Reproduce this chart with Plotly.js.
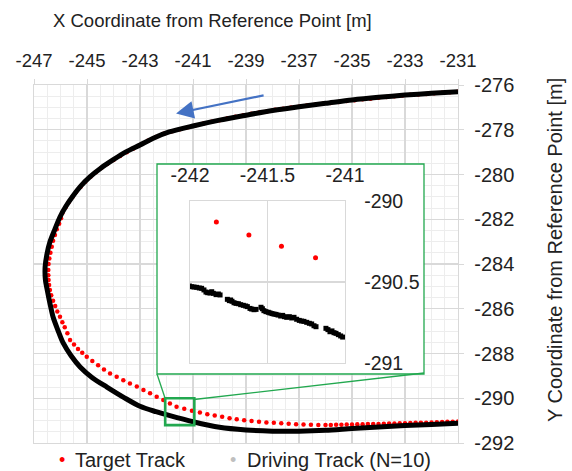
<!DOCTYPE html>
<html><head><meta charset="utf-8">
<script src="https://cdn.plot.ly/plotly-3.0.1.min.js"></script>
<style>html,body{margin:0;padding:0;background:#fff}</style>
</head><body><div id="chart" style="width:572px;height:471px"></div>
<script>
// ---- Main chart data ----
const targetX = [-231.0,-231.3,-231.6,-231.9,-232.2,-232.5,-232.8,-233.1,-233.4,-233.7,-234.0,-234.3,-234.6,-234.9,-235.2,-235.5,-235.8,-236.1,-236.4,-236.7,-237.0,-237.3,-237.6,-237.9,-238.2,-238.5,-238.8,-239.1,-239.4,-239.7,-240.0,-240.3,-240.6,-240.9,-241.2,-241.5,-241.8,-242.1,-242.4,-242.7,-243.0,
 -243.25,-243.5,-243.75,-244.0,-244.24,-244.46,-244.67,-244.87,-245.07,-245.24,-245.41,-245.55,-245.68,-245.8,-245.92,-245.98,-246.05,-246.14,-246.21,-246.28,-246.33,-246.38,-246.42,-246.45,-246.46,-246.46,-246.45,-246.43,-246.40,-246.35,-246.28,-246.2,-246.12,-246.02,-245.93,-245.84,-245.74,-245.64,-245.49,-245.34,-245.18,-245.01,-244.8,-244.58,-244.36,-244.13,-243.88,-243.63,-243.38,-243.12,-242.87,-242.62,-242.37,-242.12,-241.87,-241.62,-241.33,-241.04,-240.74,-240.46,-240.18,-239.9,-239.62,-239.35,-239.07,-238.79,-238.51,-238.23,-237.95,-237.67,-237.39,-237.11,-236.83,-236.55,-236.27,
 -236.0,-235.8,-235.6,-235.4,-235.2,-235.0,-234.8,-234.6,-234.4,-234.2,-234.0,-233.8,-233.6,-233.4,-233.2,-233.0,-232.8,-232.6,-232.4,-232.2,-232.0,-231.8,-231.6,-231.4,-231.2,-231.0];
const targetY = [-276.30,-276.32,-276.35,-276.37,-276.40,-276.42,-276.44,-276.47,-276.50,-276.54,-276.57,-276.61,-276.64,-276.68,-276.72,-276.76,-276.80,-276.84,-276.88,-276.92,-276.97,-277.01,-277.06,-277.11,-277.17,-277.23,-277.29,-277.35,-277.42,-277.49,-277.57,-277.64,-277.72,-277.80,-277.89,-277.98,-278.07,-278.18,-278.32,-278.49,-278.68,
 -278.84,-279.0,-279.17,-279.35,-279.53,-279.71,-279.9,-280.1,-280.32,-280.55,-280.78,-281.0,-281.22,-281.45,-281.7,-281.96,-282.2,-282.45,-282.7,-282.96,-283.23,-283.5,-283.75,-284.0,-284.27,-284.5,-284.72,-284.94,-285.16,-285.4,-285.64,-285.88,-286.12,-286.36,-286.6,-286.83,-287.1,-287.4,-287.6,-287.8,-287.97,-288.14,-288.33,-288.52,-288.71,-288.89,-289.04,-289.19,-289.34,-289.48,-289.63,-289.78,-289.93,-290.08,-290.23,-290.38,-290.47,-290.56,-290.64,-290.71,-290.77,-290.83,-290.89,-290.94,-290.98,-291.02,-291.05,-291.08,-291.1,-291.12,-291.14,-291.16,-291.17,-291.18,-291.19,
 -291.19,-291.19,-291.18,-291.18,-291.17,-291.17,-291.16,-291.16,-291.15,-291.15,-291.15,-291.14,-291.13,-291.13,-291.12,-291.12,-291.11,-291.10,-291.09,-291.09,-291.08,-291.07,-291.06,-291.05,-291.05,-291.04];

const driveX = [-231.0,-232.0,-233.0,-234.0,-235.0,-236.0,-237.0,-238.0,-239.0,-240.0,-241.0,-241.9,-242.5,-243.0,-243.53,-244.02,-244.47,-244.89,-245.23,-245.53,-245.79,-246.02,-246.21,-246.40,-246.51,-246.58,-246.57,-246.5,-246.4,-246.28,-246.1,-245.9,-245.6,-245.26,-244.8,-244.25,-243.6,-243.0,-242.4,-241.87,-241.0,-240.0,-239.0,-238.0,-237.0,-236.0,-235.0,-234.0,-233.0,-232.0,-231.0];
const driveY = [-276.30,-276.37,-276.45,-276.55,-276.67,-276.82,-276.97,-277.14,-277.35,-277.57,-277.83,-278.10,-278.38,-278.68,-278.99,-279.35,-279.71,-280.11,-280.51,-280.96,-281.41,-281.90,-282.44,-283.02,-283.55,-284.13,-284.7,-285.16,-285.75,-286.37,-286.95,-287.53,-288.1,-288.6,-289.08,-289.5,-289.97,-290.36,-290.6,-290.78,-291.05,-291.30,-291.42,-291.47,-291.47,-291.43,-291.35,-291.28,-291.22,-291.17,-291.12];

// ---- Inset (zoomed) data ----
const insetTargetX = [-241.83,-241.62,-241.41,-241.19];
const insetTargetY = [-290.13,-290.21,-290.28,-290.35];
const insetDriveX = [-242.004,-241.989,-241.974,-241.957,-241.940,-241.925,-241.910,-241.897,-241.886,-241.871,-241.860,-241.849,-241.832,-241.817,-241.806,-241.759,-241.746,-241.738,-241.729,-241.716,-241.703,-241.688,-241.673,-241.656,-241.641,-241.630,-241.613,-241.602,-241.587,-241.574,-241.542,-241.533,-241.523,-241.510,-241.495,-241.484,-241.471,-241.458,-241.445,-241.432,-241.415,-241.402,-241.391,-241.376,-241.359,-241.344,-241.329,-241.312,-241.295,-241.280,-241.265,-241.247,-241.230,-241.215,-241.200,-241.187,-241.123,-241.110,-241.097,-241.084,-241.071,-241.058,-241.043,-241.028,-241.015];
const insetDriveY = [-290.525,-290.529,-290.531,-290.533,-290.537,-290.539,-290.549,-290.562,-290.566,-290.568,-290.560,-290.570,-290.578,-290.574,-290.580,-290.607,-290.615,-290.611,-290.619,-290.628,-290.632,-290.634,-290.640,-290.644,-290.648,-290.652,-290.663,-290.667,-290.671,-290.669,-290.656,-290.665,-290.677,-290.683,-290.687,-290.691,-290.695,-290.698,-290.700,-290.704,-290.710,-290.706,-290.714,-290.718,-290.714,-290.722,-290.718,-290.730,-290.737,-290.741,-290.743,-290.749,-290.755,-290.759,-290.770,-290.776,-290.786,-290.794,-290.807,-290.802,-290.813,-290.817,-290.825,-290.833,-290.840];

// ---- Tick labels ----
const xTicks = [-247,-245,-243,-241,-239,-237,-235,-233,-231];
const yTicks = [-292,-290,-288,-286,-284,-282,-280,-278,-276];
const insetXTicks = [-242,-241.5,-241];
const insetYTicks = [-291,-290.5,-290];

const FONT = 'Arial, "Liberation Sans", sans-serif';
const GRID = '#d9d9d9', MINOR = '#ededed', GREEN = '#22a84f', TXT = '#222222';

const traces = [
  {type:'scatter', mode:'markers', x:targetX, y:targetY, name:'Target Track',
   marker:{color:'#ff0000', size:4.5}, xaxis:'x', yaxis:'y', showlegend:false, hoverinfo:'skip'},
  {type:'scatter', mode:'lines', x:driveX, y:driveY, name:'Driving Track (N=10)',
   line:{color:'#000000', width:5, shape:'spline', smoothing:0.8}, xaxis:'x', yaxis:'y', showlegend:false, hoverinfo:'skip'},
  {type:'scatter', mode:'markers', x:[], y:[], xaxis:'x2', yaxis:'y2', showlegend:false, hoverinfo:'skip'},
  {type:'scatter', mode:'markers', x:insetDriveX, y:insetDriveY, name:'Driving Track (N=10)',
   marker:{color:'#000000', size:5, symbol:'square'}, xaxis:'x3', yaxis:'y3', showlegend:false, hoverinfo:'skip'},
  {type:'scatter', mode:'markers', x:insetTargetX, y:insetTargetY, name:'Target Track',
   marker:{color:'#ff0000', size:5}, xaxis:'x3', yaxis:'y3', showlegend:false, hoverinfo:'skip'}
];

const px = v => (v - 34) / 424;
const py = v => (443 - v) / 358;

const layout = {
  width:572, height:471,
  margin:{l:34, r:114, t:85, b:28, pad:0},
  paper_bgcolor:'#ffffff', plot_bgcolor:'#ffffff',
  font:{family:FONT, color:TXT},
  showlegend:false,
  xaxis:{domain:[0,1], range:[-247,-231], side:'top', anchor:'y',
    tickmode:'array', tickvals:xTicks, ticktext:xTicks.map(String),
    showgrid:true, gridcolor:GRID, gridwidth:1.3,
    minor:{tickmode:'linear', tick0:-247, dtick:0.5, showgrid:true, gridcolor:MINOR, gridwidth:1, ticks:''},
    showline:true, mirror:true, linecolor:GRID, linewidth:1.3,
    ticks:'outside', ticklen:5, tickcolor:GRID, tickfont:{size:18.5, color:TXT, family:FONT},
    ticklabelstandoff:4, zeroline:false, fixedrange:true},
  yaxis:{domain:[0,1], range:[-292,-276], side:'right', anchor:'x',
    tickmode:'array', tickvals:yTicks, ticktext:yTicks.map(String),
    showgrid:true, gridcolor:GRID, gridwidth:1.3,
    minor:{tickmode:'linear', tick0:-292, dtick:0.5, showgrid:true, gridcolor:MINOR, gridwidth:1, ticks:''},
    showline:true, mirror:true, linecolor:GRID, linewidth:1.3,
    ticks:'outside', ticklen:5, tickcolor:GRID, tickfont:{size:20, color:TXT, family:FONT},
    ticklabelstandoff:6, zeroline:false, fixedrange:true},
  xaxis2:{domain:[px(157), px(424)], range:[0,1], anchor:'y2', visible:false, fixedrange:true},
  yaxis2:{domain:[py(374), py(164)], range:[0,1], anchor:'x2', visible:false, fixedrange:true},
  xaxis3:{domain:[px(190), px(345)], range:[-242,-241], side:'top', anchor:'y3',
    tickmode:'array', tickvals:insetXTicks, ticktext:insetXTicks.map(String),
    showgrid:true, gridcolor:GRID, gridwidth:1.3, showline:true, mirror:true, linecolor:GRID, linewidth:1.3,
    ticks:'', tickfont:{size:19.5, color:TXT, family:FONT}, ticklabelstandoff:10, zeroline:false, fixedrange:true},
  yaxis3:{domain:[py(363), py(201)], range:[-291,-290], side:'right', anchor:'x3',
    tickmode:'array', tickvals:insetYTicks, ticktext:insetYTicks.map(String),
    showgrid:true, gridcolor:GRID, gridwidth:1.3, showline:true, mirror:true, linecolor:GRID, linewidth:1.3,
    ticks:'', tickfont:{size:19.5, color:TXT, family:FONT}, ticklabelstandoff:14, zeroline:false, fixedrange:true},
  shapes:[
    {type:'rect', xref:'x2', yref:'y2', x0:0, x1:1, y0:0, y1:1, fillcolor:'#ffffff', line:{width:0}, layer:'below'},
    {type:'rect', xref:'paper', yref:'paper', x0:px(157), x1:px(424), y0:py(374), y1:py(164),
     line:{color:GREEN, width:1.3}, fillcolor:'rgba(0,0,0,0)', layer:'above'},
    {type:'rect', xref:'x', yref:'y', x0:-242.05, x1:-240.95, y0:-291.2, y1:-290.0,
     line:{color:GREEN, width:2.6}, fillcolor:'rgba(0,0,0,0)', layer:'above'},
    {type:'line', xref:'paper', yref:'paper', x0:px(157), y0:py(374), x1:px(165), y1:py(398),
     line:{color:GREEN, width:1.3}, layer:'above'},
    {type:'line', xref:'paper', yref:'paper', x0:px(424), y0:py(373), x1:px(194), y1:py(399.5),
     line:{color:GREEN, width:1.3}, layer:'above'}
  ],
  annotations:[
    {xref:'x', yref:'y', x:-241.64, y:-277.27, axref:'x', ayref:'y', ax:-238.28, ay:-276.45,
     text:'', showarrow:true, arrowhead:2, arrowsize:1.6, arrowwidth:2.2, arrowcolor:'#4472C4'},
    {xref:'paper', yref:'paper', x:px(212), y:py(21), text:'X Coordinate from Reference Point [m]',
     showarrow:false, xanchor:'center', yanchor:'middle', font:{size:18.5, color:TXT, family:FONT}},
    {xref:'paper', yref:'paper', x:px(555), y:py(250), text:'Y Coordinate from Reference Point [m]',
     textangle:-90, showarrow:false, xanchor:'center', yanchor:'middle', font:{size:20, color:TXT, family:FONT}},
    {xref:'paper', yref:'paper', x:px(62), y:py(460), text:'•', showarrow:false, xanchor:'center', yanchor:'middle',
     font:{size:18, color:'#ff0000', family:FONT}},
    {xref:'paper', yref:'paper', x:px(73), y:py(460), text:'Target Track', showarrow:false, xanchor:'left', yanchor:'middle',
     font:{size:20, color:TXT, family:FONT}},
    {xref:'paper', yref:'paper', x:px(233), y:py(460), text:'•', showarrow:false, xanchor:'center', yanchor:'middle',
     font:{size:18, color:'#bfbfbf', family:FONT}},
    {xref:'paper', yref:'paper', x:px(245), y:py(460), text:'Driving Track (N=10)', showarrow:false, xanchor:'left', yanchor:'middle',
     font:{size:20, color:TXT, family:FONT}}
  ]
};

Plotly.newPlot('chart', traces, layout, {displayModeBar:false, staticPlot:true});
</script>
</body></html>
